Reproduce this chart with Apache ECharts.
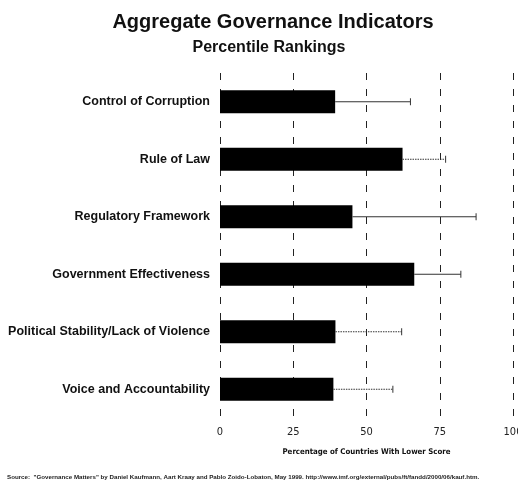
<!DOCTYPE html>
<html>
<head>
<meta charset="utf-8">
<script src="https://cdn.jsdelivr.net/npm/echarts@6/dist/echarts.min.js"></script>
<style>
html,body{margin:0;padding:0;background:#fff;}
#chart{width:518px;height:485px;}
</style>
</head>
<body>
<div id="chart"></div>
<script>
// ---- data ----
const categories = [
  "Control of Corruption",
  "Rule of Law",
  "Regulatory Framework",
  "Government Effectiveness",
  "Political Stability/Lack of Violence",
  "Voice and Accountability"
];
const percentiles = [39.3, 62.3, 45.2, 66.3, 39.4, 38.7];
const upperBounds = [65, 77, 87.4, 82.2, 62, 59];
const xTicks = [0, 25, 50, 75, 100];
const titleText = "Aggregate Governance Indicators";
const subtitleText = "Percentile Rankings";
const xAxisName = "Percentage of Countries With Lower Score";
const sourceText = 'Source:  "Governance Matters" by Daniel Kaufmann, Aart Kraay and Pablo Zoido-Lobaton, May 1999. http://www.imf.org/external/pubs/ft/fandd/2000/06/kauf.htm.';

// ---- styling ----
const dottedRows = new Set(["Rule of Law", "Political Stability/Lack of Violence", "Voice and Accountability"]);
const FONT = '"Liberation Sans", Arial, Helvetica, sans-serif';
const NARROW = '"Liberation Sans Narrow", "DejaVu Sans Condensed", "Liberation Sans", Arial, sans-serif';

const errData = categories.map((c, i) => [i, percentiles[i], upperBounds[i]]);

const chart = echarts.init(document.getElementById('chart'), null, {renderer: 'canvas'});
chart.setOption({
  backgroundColor: '#ffffff',
  animation: false,
  title: [
    {text: titleText, left: 268, top: 7, textAlign: 'center',
     textStyle: {fontFamily: FONT, fontWeight: 'bold', fontSize: 20, color: '#111'}},
    {text: subtitleText, left: 264, top: 35, textAlign: 'center',
     textStyle: {fontFamily: FONT, fontWeight: 'bold', fontSize: 16, color: '#111'}},
    {text: sourceText, left: 7, top: 474, padding: 0,
     textStyle: {fontFamily: FONT, fontWeight: 'bold', fontSize: 6.2, color: '#222'}}
  ],
  grid: {left: 220, right: 5, top: 73, height: 345, containLabel: false, outerBoundsMode: 'none'},
  xAxis: {
    type: 'value', min: xTicks[0], max: xTicks[xTicks.length - 1], interval: xTicks[1] - xTicks[0],
    axisLine: {show: false}, axisTick: {show: false},
    axisLabel: {fontFamily: NARROW, fontSize: 11, color: '#222', margin: 9, showMaxLabel: true},
    splitLine: {show: true, lineStyle: {color: '#222', width: 1, type: [7, 9]}},
    name: xAxisName, nameLocation: 'middle', nameGap: 30,
    nameTextStyle: {fontFamily: NARROW, fontWeight: 'bold', fontSize: 7.8, color: '#111'}
  },
  yAxis: {
    type: 'category', data: categories, inverse: true,
    axisLine: {show: false}, axisTick: {show: false}, splitLine: {show: false},
    axisLabel: {fontFamily: FONT, fontWeight: 'bold', fontSize: 12.5, color: '#111', margin: 10}
  },
  series: [
    {
      type: 'bar', data: percentiles, barWidth: 23,
      itemStyle: {color: '#000'}, z: 2
    },
    {
      type: 'custom', data: errData, z: 3,
      renderItem: function (params, api) {
        const idx = api.value(0);
        const p0 = api.coord([api.value(1), idx]);
        const p1 = api.coord([api.value(2), idx]);
        const dotted = dottedRows.has(categories[idx]);
        const style = {stroke: '#333', lineWidth: 1, lineDash: dotted ? [1.5, 1] : null};
        return {
          type: 'group',
          children: [
            {type: 'line', shape: {x1: p0[0], y1: p0[1], x2: p1[0], y2: p1[1]}, style: style},
            {type: 'line', shape: {x1: p1[0], y1: p1[1] - 3.5, x2: p1[0], y2: p1[1] + 3.5},
             style: {stroke: '#333', lineWidth: 1}}
          ]
        };
      }
    }
  ]
});
</script>
</body>
</html>
